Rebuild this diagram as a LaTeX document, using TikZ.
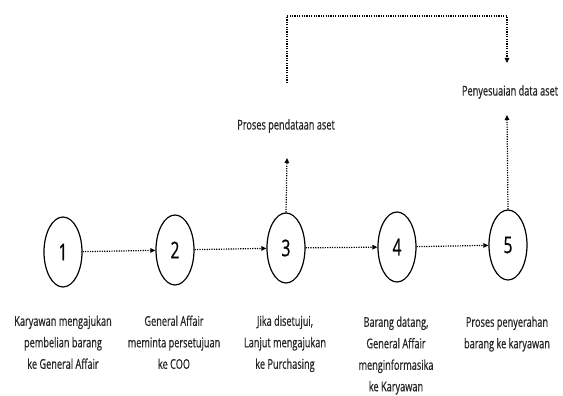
\documentclass[tikz,border=0pt]{standalone}
\usepackage{fontspec}
\setmainfont[FakeStretch=0.68,FakeBold=0.6]{Open Sans}
\usetikzlibrary{arrows.meta,shapes.geometric}
\begin{document}
\begin{tikzpicture}[x=1pt,y=-1pt,
  stepcirc/.style={draw,line width=1.2pt,ellipse,minimum width=38pt,minimum height=70pt,inner sep=0pt,font=\fontsize{23}{23}\selectfont},
  lbl/.style={align=center,font=\fontsize{13.5}{21.5}\selectfont,text=black!85,anchor=north},
  conn/.style={dash pattern=on 1.2pt off 1.2pt,line width=1.2pt,-{Triangle[length=5pt,width=4.5pt]}}]
\useasboundingbox (0,0) rectangle (563,396);
\node[stepcirc] (c1) at (63,252) {1};
\node[stepcirc] (c2) at (175,250) {2};
\node[stepcirc] (c3) at (286,248) {3};
\node[stepcirc] (c4) at (397,247) {4};
\node[stepcirc] (c5) at (508,245) {5};
\draw[conn] (c1) -- (c2);
\draw[conn] (c2) -- (c3);
\draw[conn] (c3) -- (c4);
\draw[conn] (c4) -- (c5);
\node[lbl] (l1) at (63,312) {Karyawan mengajukan\\pembelian barang\\ke General Affair};
\node[lbl] (l2) at (174,312) {General Affair\\meminta persetujuan\\ke COO};
\node[lbl] (l3) at (285,312) {Jika disetujui,\\Lanjut mengajukan\\ke Purchasing};
\node[lbl] (l4) at (396,313) {Barang datang,\\General Affair\\menginformasika\\ke Karyawan};
\node[lbl] (l5) at (507,313) {Proses penyerahan\\barang ke karyawan};
\node[lbl,anchor=center] (pa) at (286,126) {Proses pendataan aset};
\node[lbl,anchor=center] (pd) at (510,92) {Penyesuaian data aset};
\coordinate (a3) at (287,158);
\coordinate (a5) at (507,115);
\coordinate (b0) at (287,83);
\coordinate (b1) at (287,16);
\coordinate (b2) at (507,16);
\coordinate (b3) at (507,63);
\draw[conn] (c3.north) -- (a3);
\draw[conn] (c5.north) -- (a5);
\draw[conn] (b0) -- (b1) -- (b2) -- (b3);
\end{tikzpicture}
\end{document}
